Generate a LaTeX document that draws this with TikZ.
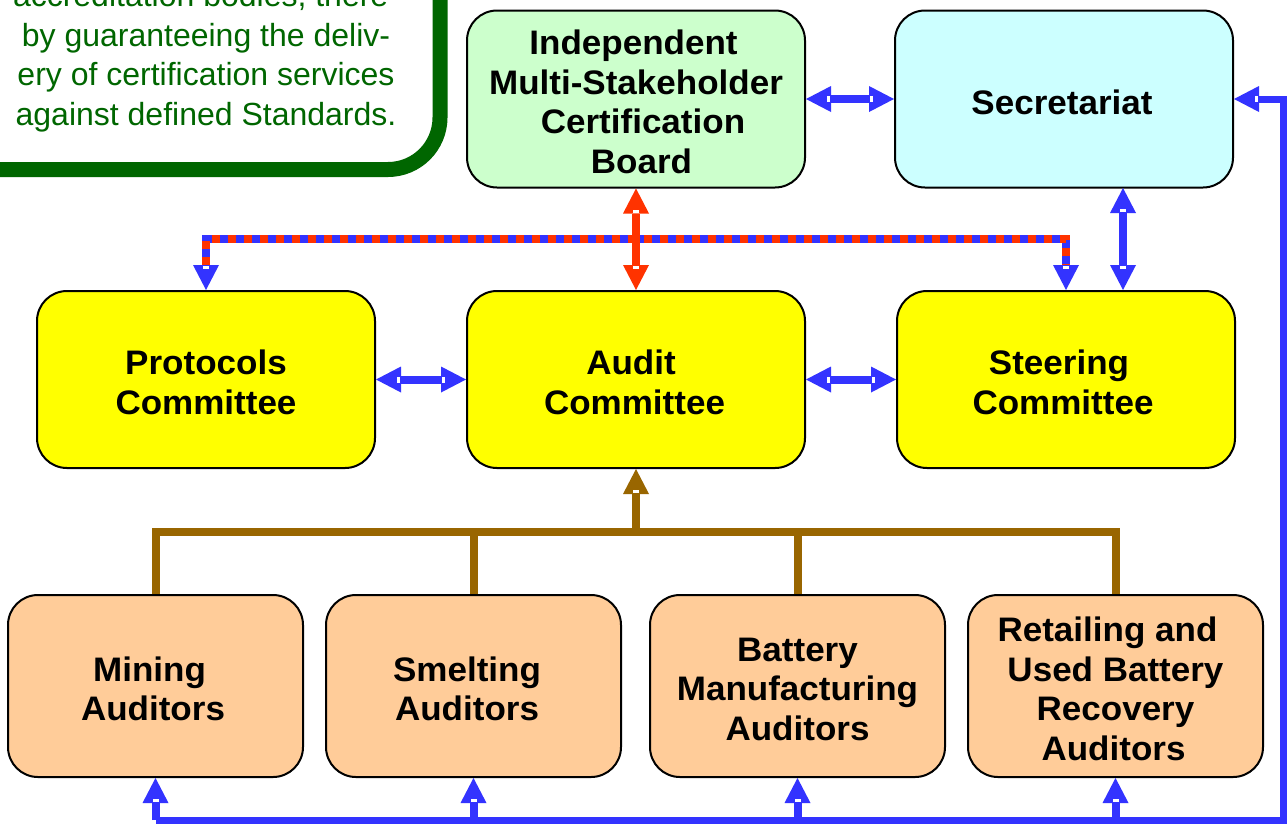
\documentclass[tikz,border=0pt]{standalone}
\usepackage{fontspec}
\setmainfont{Liberation Sans}[BoldFeatures={FakeStretch=1.03}]
\usetikzlibrary{arrows.meta,decorations.markings}
\definecolor{gb}{HTML}{006600}
\definecolor{bl}{HTML}{3333FF}
\definecolor{rd}{HTML}{FF3300}
\definecolor{br}{HTML}{996600}
\definecolor{grn}{HTML}{CCFFCC}
\definecolor{cyn}{HTML}{CCFFFF}
\definecolor{ylw}{HTML}{FFFF00}
\definecolor{pch}{HTML}{FFCC99}
\newcommand{\tr}[1]{\hspace*{#1pt}}
\tikzset{
  box/.style={draw=black, line width=2pt, rounded corners=30pt, inner sep=0pt},
  bigbox/.style={box, minimum width=338pt, minimum height=177pt},
  audbox/.style={box, fill=pch, minimum width=295pt, minimum height=182pt},
  txt/.style={align=center, font=\fontsize{34}{39.5}\selectfont\bfseries, inner sep=0pt, yshift=-3pt},
  tickA/.style={postaction={decorate,decoration={markings,
    mark=at position 22.5pt with {\fill[white] (-1.5pt,-3pt) rectangle (1.5pt,3pt);}}}},
  tickB/.style={postaction={decorate,decoration={markings,
    mark=at position -22.5pt with {\fill[white] (-1.5pt,-3pt) rectangle (1.5pt,3pt);}}}},
  dbl/.style={line width=8pt, line cap=butt, line join=miter,
    arrows={Triangle[length=25pt,width=26pt,line width=0pt]-Triangle[length=25pt,width=26pt,line width=0pt]},
    tickA, tickB},
  sgl/.style={line width=8pt, line cap=butt, line join=miter,
    arrows={-Triangle[length=25pt,width=26pt,line width=0pt]}, tickB},
  plain/.style={line width=8pt, line cap=butt, line join=miter},
  gtext/.style={text=gb, font=\fontsize{32}{39.5}\selectfont, anchor=base, inner sep=0pt},
}
\begin{document}
\begin{tikzpicture}[x=1pt,y=-1pt]
\useasboundingbox (0,0) rectangle (1287,823);
\clip (0,0) rectangle (1287,823);
\fill[white] (0,0) rectangle (1287,823);

% note box (partly cut off)
\draw[gb, line width=15pt, rounded corners=52pt] (-120,-120) rectangle (440,169.5);
\node[gtext] (t1) at (206,6.5) {accreditation bodies, there-};
\node[gtext] (t2) at (206,46) {by guaranteeing the deliv-};
\node[gtext] (t3) at (206,85.5) {ery of certification services};
\node[gtext] (t4) at (206,125) {against defined Standards.};

% boxes
\node[bigbox, fill=grn] (cert) at (636,99) {};
\node[bigbox, fill=cyn] (sec) at (1064,99) {};
\node[bigbox, fill=ylw] (prot) at (206,379.5) {};
\node[bigbox, fill=ylw] (audit) at (636,379.5) {};
\node[bigbox, fill=ylw] (steer) at (1066,379.5) {};
\node[audbox] (mining) at (155.5,686) {};
\node[audbox] (smelt) at (473.5,686) {};
\node[audbox] (batt) at (797.5,686) {};
\node[audbox] (retail) at (1115.5,686) {};

% box texts
\node[txt] (certT) at (cert) {Independent\tr{5}\\Multi-Stakeholder\tr{17}\\\tr{14}Certification\\\tr{11}Board};
\node[txt] (secT) at (sec) {Secretariat\tr{4}};
\node[txt] (protT) at (prot) {Protocols\\Committee};
\node[txt] (auditT) at (audit) {Audit\tr{10}\\Committee\tr{3}};
\node[txt] (steerT) at (steer) {Steering\tr{14}\\Committee\tr{6}};
\node[txt] (miningT) at (mining) {Mining\tr{12}\\Auditors\tr{5}};
\node[txt] (smeltT) at (smelt) {Smelting\tr{13}\\Auditors\tr{13}};
\node[txt] (battT) at (batt) {Battery\\Manufacturing\\Auditors};
\node[txt] (retailT) at (retail) {Retailing and\tr{16}\\Used Battery\tr{16}\\Recovery\tr{4}\\Auditors\tr{4}};

\coordinate (busT) at (0,532);
\coordinate (busB) at (0,820);
\coordinate (busR) at (1283,820);
\coordinate (secS) at (1123,188);

% blue double arrows
\draw[bl, dbl] (cert.east) -- (sec.west);
\draw[bl, dbl] (prot.east) -- (audit.west);
\draw[bl, dbl] (audit.east) -- (steer.west);
\draw[bl, dbl] (secS) -- (secS |- steer.north);

% dashed red/blue connector
\draw[bl, dbl] (prot.north) -- ++(0,-51.5) -| (steer.north);
\draw[rd, plain, dash pattern=on 8pt off 8pt, shorten <=25pt, shorten >=25pt]
  (prot.north) -- ++(0,-51.5) -| (steer.north);

% red arrow
\draw[rd, dbl] (cert.south) -- (audit.north);

% brown tree
\draw[br, plain] (mining.north) -- (mining.north |- busT) -- (retail.north |- busT) -- (retail.north);
\draw[br, plain] (smelt.north) -- (smelt.north |- busT);
\draw[br, plain] (batt.north) -- (batt.north |- busT);
\draw[br, sgl] (audit.south |- busT) -- (audit.south);

% bottom blue loop
\draw[bl, line width=7pt, line join=miter, arrows={-Triangle[length=25pt,width=26pt,line width=0pt]}, tickB]
  (mining.south |- busB) -- (busR) |- (sec.east);
\draw[bl, sgl] (mining.south |- busB) -- (mining.south);
\draw[bl, sgl] (smelt.south |- busB) -- (smelt.south);
\draw[bl, sgl] (batt.south |- busB) -- (batt.south);
\draw[bl, sgl] (retail.south |- busB) -- (retail.south);
\end{tikzpicture}
\end{document}
